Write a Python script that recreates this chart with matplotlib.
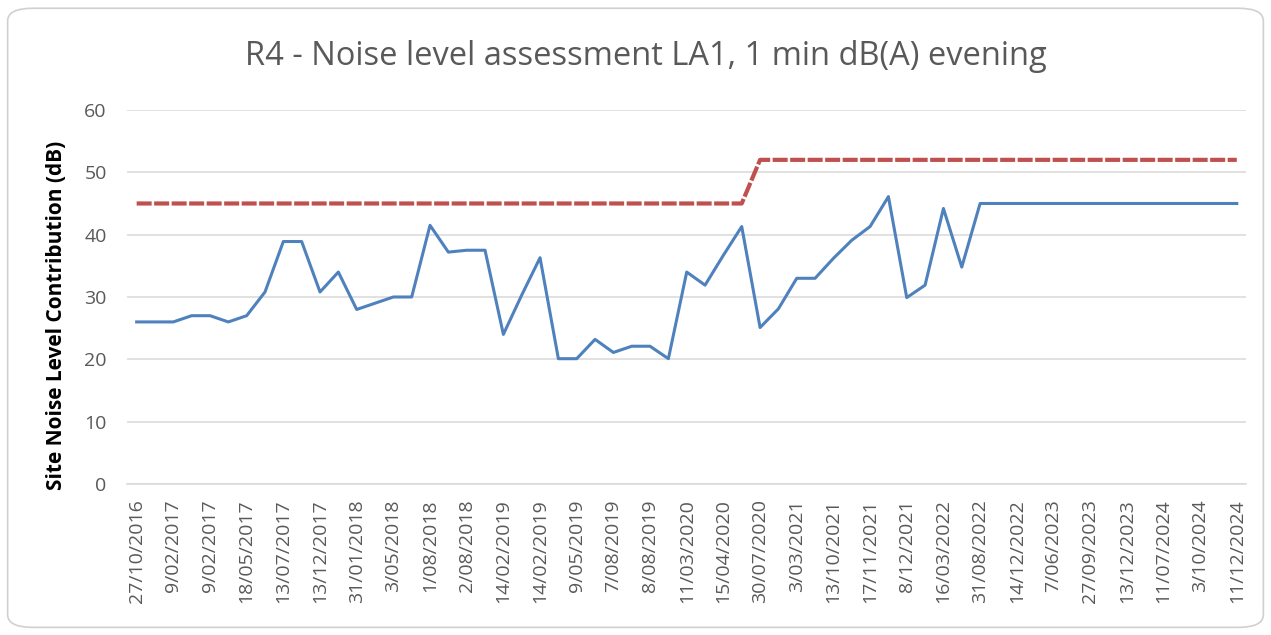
import matplotlib.pyplot as plt
from matplotlib.patches import FancyBboxPatch
import numpy as np

# dates shown on the category axis (every second survey)
date_labels = ['27/10/2016', '9/02/2017', '9/02/2017', '18/05/2017', '13/07/2017',
               '13/12/2017', '31/01/2018', '3/05/2018', '1/08/2018', '2/08/2018',
               '14/02/2019', '14/02/2019', '9/05/2019', '7/08/2019', '8/08/2019',
               '11/03/2020', '15/04/2020', '30/07/2020', '3/03/2021', '13/10/2021',
               '17/11/2021', '8/12/2021', '16/03/2022', '31/08/2022', '14/12/2022',
               '7/06/2023', '27/09/2023', '13/12/2023', '11/07/2024', '3/10/2024',
               '11/12/2024']

# measured site noise level contribution LA1, 1 min (dB)
measured = [26, 26, 26, 27, 27, 26, 27, 30.8, 38.9, 38.9,
            30.8, 34, 28, 29, 30, 30, 41.5, 37.2, 37.5, 37.5,
            24, 30.3, 36.3, 20.1, 20.1, 23.2, 21.1, 22.1, 22.1, 20.1,
            34, 31.9, 36.7, 41.3, 25.1, 28.1, 33, 33, 36.2, 39.1,
            41.3, 46.1, 29.9, 31.9, 44.2, 34.8, 45, 45, 45, 45,
            45, 45, 45, 45, 45, 45, 45, 45, 45, 45, 45]

# noise criterion (dB)
criterion = [45] * 34 + [52] * 27

x = np.arange(len(measured))

plt.rcParams['font.family'] = ['Open Sans', 'DejaVu Sans']
fig = plt.figure(figsize=(12.71, 6.35), dpi=100)

# rounded chart border
frame = FancyBboxPatch((0.006, 0.012), 0.988, 0.975, boxstyle='round,pad=0,rounding_size=0.02',
                       transform=fig.transFigure, facecolor='none', edgecolor='#d0d0d0',
                       linewidth=1.2, zorder=-1)
fig.patches.append(frame)

ax = fig.add_axes([0.1003, 0.2378, 0.8800, 0.5890])
ax.set_facecolor('none')

ax.plot(x, measured, color='#4F81BD', linewidth=2.2, zorder=3)
ax.plot(x, criterion, color='#C0504D', linewidth=3.0, dashes=(3.6, 0.6), zorder=3)

ax.set_xlim(-0.5, len(measured) - 0.5)
ax.set_ylim(0, 60)
ax.set_yticks(range(0, 61, 10))
ax.set_xticks(x[::2])
ax.set_xticklabels(date_labels, rotation=90)
ax.grid(axis='y', color='#d9d9d9', linewidth=1.1)
ax.set_axisbelow(True)

for s in ['top', 'right', 'left']:
    ax.spines[s].set_visible(False)
ax.spines['bottom'].set_color('#d9d9d9')
ax.spines['bottom'].set_linewidth(1.1)
ax.tick_params(axis='x', length=0, pad=11, labelsize=14, labelcolor='#595959')
ax.tick_params(axis='y', length=0, pad=15, labelsize=14, labelcolor='#595959')

ax.set_ylabel('Site Noise Level Contribution (dB)', fontsize=15, fontweight='bold')
ax.yaxis.set_label_coords(-60.5 / 1118, 0.452)
fig.text(0.508, 0.898, 'R4 - Noise level assessment LA1, 1 min dB(A) evening',
         ha='center', va='baseline', fontsize=23.5, color='#595959')

fig.savefig('out.png', dpi=100)
